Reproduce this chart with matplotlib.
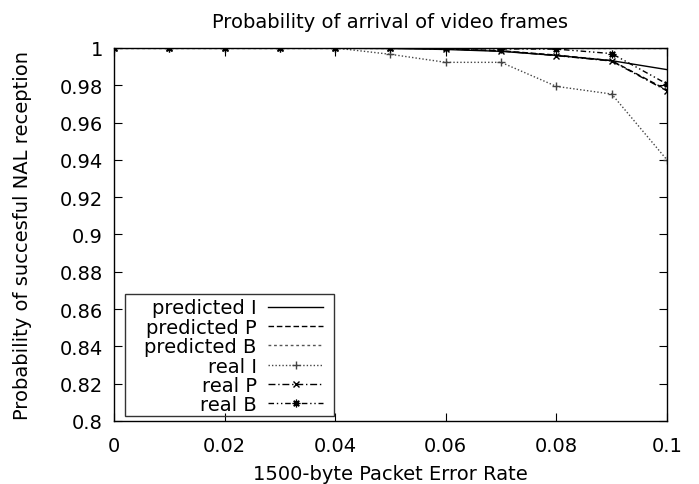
import matplotlib
matplotlib.use("Agg")
import matplotlib.pyplot as plt
from matplotlib.patches import Rectangle
from matplotlib.ticker import MultipleLocator, FormatStrFormatter

# tasa de error de paquete (eje x)
per = [0.0, 0.01, 0.02, 0.03, 0.04, 0.05, 0.06, 0.07, 0.08, 0.09, 0.1]

pred_I = [1, 1, 1, 1, 0.9999, 0.9997, 0.9992, 0.9982, 0.9960, 0.9932, 0.9884]
pred_P = [1, 1, 1, 1, 1, 0.9999, 0.9995, 0.9985, 0.9962, 0.9932, 0.9775]
pred_B = [1, 1, 1, 1, 1, 1, 1, 1, 1, 1, 1]
real_I = [1, 1, 1, 1, 1, 0.9966, 0.9923, 0.9923, 0.9794, 0.9753, 0.940]
real_P = [1, 1, 1, 1, 1, 1, 0.9995, 0.9984, 0.9959, 0.9930, 0.9770]
real_B = [1, 1, 1, 1, 1, 1, 1, 0.9995, 0.9994, 0.9970, 0.9807]

plt.rcParams["font.family"] = "DejaVu Sans"
fs = 14

fig = plt.figure(figsize=(6.99, 4.85), dpi=100)
ax = fig.add_axes([0.1631, 0.1299, 0.7911, 0.7691])

ax.plot(per, pred_I, color="black", lw=1.0, label="predicted I")
ax.plot(per, pred_P, color="black", lw=1.0, dashes=(4, 2), label="predicted P")
ax.plot(per, pred_B, color="#555555", lw=1.0, dashes=(2, 2), label="predicted B")
ax.plot(per, real_I, color="#444444", lw=1.0, dashes=(1, 1.5), marker="+", ms=6,
        mew=1.0, label="real I")
ax.plot(per, real_P, color="black", lw=1.0, dashes=(5, 2, 1, 2), marker="x", ms=5,
        mew=1.0, label="real P")
ax.plot(per, real_B, color="black", lw=1.0, dashes=(4, 2, 1, 2, 1, 2), marker=(8, 2, 0),
        ms=5.5, mew=0.9, label="real B")

ax.set_xlim(0, 0.1)
ax.set_ylim(0.8, 1.0)
ax.xaxis.set_major_locator(MultipleLocator(0.02))
ax.yaxis.set_major_locator(MultipleLocator(0.02))
ax.xaxis.set_major_formatter(FormatStrFormatter("%g"))
ax.yaxis.set_major_formatter(FormatStrFormatter("%g"))
ax.tick_params(direction="in", length=6, width=0.8, top=True, right=True, labelsize=fs)
ax.tick_params(axis="x", pad=11)
ax.tick_params(axis="y", pad=8)
for s in ax.spines.values():
    s.set_linewidth(1.0)

ax.set_title("Probability of arrival of video frames", fontsize=fs, pad=15)
ax.set_xlabel("1500-byte Packet Error Rate", fontsize=fs, labelpad=6)
ax.set_ylabel("Probability of succesful NAL reception", fontsize=fs, labelpad=20)

# leyenda estilo gnuplot: texto alineado a la derecha, muestra a la derecha
leg = ax.legend(loc="lower left", bbox_to_anchor=(0.055, 0.018), borderaxespad=0,
                markerfirst=False, frameon=False,
                handlelength=2.8, labelspacing=0.02, borderpad=0.0, handletextpad=0.6,
                fontsize=fs)

fig.canvas.draw()
bb = leg.get_window_extent()
ax.add_patch(Rectangle((bb.x0 - 19, bb.y0 - 2), bb.width + 30, bb.height + 6,
                       transform=None, fill=False, edgecolor="#333333", lw=1.0, zorder=5))

plt.savefig("out.png", dpi=100)
